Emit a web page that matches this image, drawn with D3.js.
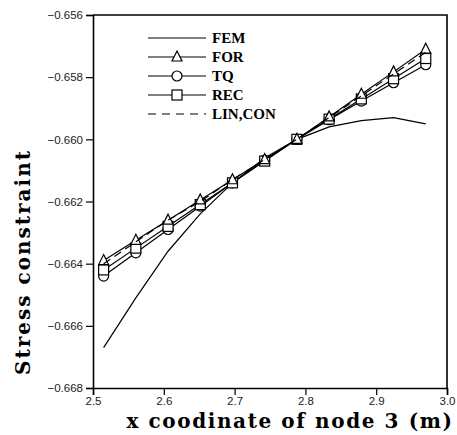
<!DOCTYPE html>
<html>
<head>
<meta charset="utf-8">
<script src="https://cdn.jsdelivr.net/npm/d3@7"></script>
<style>
  body { margin: 0; background: #fff; }
  svg { display: block; }
</style>
</head>
<body>
<svg width="457" height="435"></svg>
<script>
// x coordinate of node 3 (m)
const xNode = [2.515, 2.5605, 2.606, 2.6515, 2.697, 2.7425, 2.788, 2.8335, 2.879, 2.9245, 2.97];

// stress constraint values
const femVals = [-0.6667, -0.6651, -0.6636, -0.6624, -0.6614, -0.6606, -0.6600, -0.6596, -0.6594, -0.6593, -0.6595];
const forVals = [-0.6639, -0.66325, -0.6626, -0.66195, -0.6613, -0.66065, -0.6600, -0.65928, -0.65855, -0.65783, -0.6571];
const tqVals  = [-0.6644, -0.66365, -0.6629, -0.66215, -0.6614, -0.66067, -0.6600, -0.65937, -0.65877, -0.65818, -0.6576];
const recVals = [-0.6642, -0.6635, -0.6628, -0.6621, -0.6614, -0.6607, -0.6600, -0.65935, -0.6587, -0.65805, -0.6574];
const linVals = [-0.6640, -0.6633, -0.6626, -0.6620, -0.6613, -0.66065, -0.6600, -0.6593, -0.6586, -0.6579, -0.6572];

const seriesNames = ["FEM", "FOR", "TQ", "REC", "LIN,CON"];
const xTicks = [2.5, 2.6, 2.7, 2.8, 2.9, 3.0];
const yTicks = [-0.656, -0.658, -0.660, -0.662, -0.664, -0.666, -0.668];

const svg = d3.select("svg");
const area = { left: 93, right: 447, top: 15, bottom: 388 };

const scX = d3.scaleLinear().domain([2.5, 3.0]).range([area.left, area.right]);
const scY = d3.scaleLinear().domain([-0.668, -0.656]).range([area.bottom, area.top]);

// рамка: сверху и справа без делений
svg.append("path")
  .attr("d", `M${area.left},${area.top}H${area.right}V${area.bottom}`)
  .attr("fill", "none").attr("stroke", "#000").attr("stroke-width", 1.6);

// оси
const fmtY = d => d3.format(".3f")(d).replace("-", "\u2212");
const axisY = d3.axisLeft(scY).tickValues(yTicks).tickFormat(fmtY).tickSize(7).tickPadding(3);
const axisYminor = d3.axisLeft(scY).ticks(60).tickFormat("").tickSize(4);
const axisX = d3.axisBottom(scX).tickValues(xTicks).tickFormat(d3.format(".1f")).tickSize(7).tickPadding(2);
const axisXminor = d3.axisBottom(scX).ticks(50).tickFormat("").tickSize(4);

const gy = svg.append("g").attr("transform", `translate(${area.left},0)`);
gy.call(axisYminor);
gy.call(axisY);
const gx = svg.append("g").attr("transform", `translate(0,${area.bottom})`);
gx.call(axisXminor);
gx.call(axisX);

svg.selectAll(".domain").attr("stroke-width", 1.6);
svg.selectAll(".tick line").attr("stroke-width", 1.2);
svg.selectAll(".tick text")
  .style("font-family", "'Liberation Sans', Arial, sans-serif")
  .style("font-size", "11.5px")
  .attr("fill", "#222");

// линии
const line = d3.line().x((d, i) => scX(xNode[i])).y(d => scY(d));

function drawSeries(vals, dash, marker) {
  svg.append("path")
    .datum(vals)
    .attr("d", line)
    .attr("fill", "none")
    .attr("stroke", "#000")
    .attr("stroke-width", 1.2)
    .attr("stroke-dasharray", dash);
  if (marker) {
    vals.forEach((v, i) => drawMarker(marker, scX(xNode[i]), scY(v)));
  }
}

function drawMarker(kind, cx, cy) {
  const s = 5;
  if (kind === "tri") {
    svg.append("path")
      .attr("d", `M${cx},${cy - s - 1}L${cx + s},${cy + s - 1}L${cx - s},${cy + s - 1}Z`)
      .attr("fill", "#fff").attr("stroke", "#000").attr("stroke-width", 1.2);
  } else if (kind === "circ") {
    svg.append("circle").attr("cx", cx).attr("cy", cy).attr("r", s)
      .attr("fill", "#fff").attr("stroke", "#000").attr("stroke-width", 1.2);
  } else {
    svg.append("rect").attr("x", cx - s).attr("y", cy - s).attr("width", 2 * s).attr("height", 2 * s)
      .attr("fill", "#fff").attr("stroke", "#000").attr("stroke-width", 1.2);
  }
}

drawSeries(femVals, null, null);
drawSeries(tqVals, null, "circ");
drawSeries(recVals, null, "rect");
drawSeries(forVals, null, "tri");
drawSeries(linVals, "8,5", null);

// легенда
const legendKinds = [null, "tri", "circ", "rect", null];
const legendDash = [null, null, null, null, "8,6"];
seriesNames.forEach((name, i) => {
  const y = 38 + i * 19;
  svg.append("line")
    .attr("x1", 148).attr("x2", 206).attr("y1", y).attr("y2", y)
    .attr("stroke", "#000").attr("stroke-width", 1.2)
    .attr("stroke-dasharray", legendDash[i]);
  if (legendKinds[i]) drawMarker(legendKinds[i], 177, y);
  svg.append("text")
    .attr("x", 212).attr("y", y + 5)
    .style("font-family", "'Liberation Serif', 'Times New Roman', serif")
    .style("font-weight", "bold")
    .style("font-size", "15px")
    .text(name);
});

// подписи осей
svg.append("text")
  .attr("x", 290).attr("y", 428)
  .attr("text-anchor", "middle")
  .style("font-family", "'DejaVu Serif', serif")
  .style("font-weight", "bold")
  .style("font-size", "20px")
  .style("letter-spacing", "1.6px")
  .text("x coodinate of node 3 (m)");

svg.append("text")
  .attr("transform", "translate(30,262) rotate(-90)")
  .attr("text-anchor", "middle")
  .style("font-family", "'DejaVu Serif', serif")
  .style("font-weight", "bold")
  .style("font-size", "20px")
  .style("letter-spacing", "2px")
  .text("Stress constraint");
</script>
</body>
</html>
